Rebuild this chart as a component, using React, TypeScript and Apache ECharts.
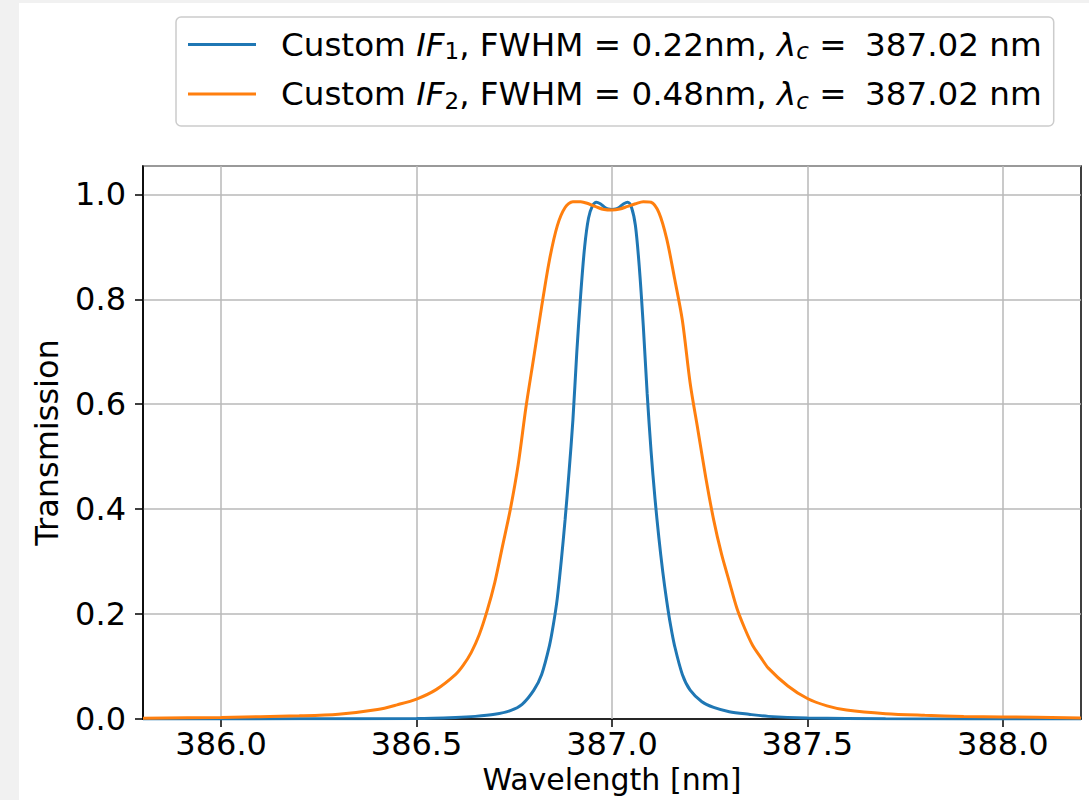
import React, { useEffect, useRef } from "react";
import * as echarts from "echarts";

const wlIF2 = [385.8, 386.0, 386.2, 386.3, 386.4, 386.45, 386.5, 386.55, 386.6, 386.62, 386.64, 386.66, 386.68, 386.7, 386.72, 386.74, 386.76, 386.78, 386.8, 386.82, 386.84, 386.86, 386.88, 386.9, 386.92, 386.94, 386.96, 386.98, 387.0, 387.02, 387.04, 387.06, 387.08, 387.1, 387.12, 387.14, 387.16, 387.18, 387.2, 387.22, 387.24, 387.26, 387.28, 387.3, 387.32, 387.34, 387.36, 387.38, 387.4, 387.45, 387.5, 387.55, 387.6, 387.7, 387.8, 387.9, 388.0, 388.2];
const tIF2 = [0.0015, 0.003, 0.006, 0.009, 0.018, 0.027, 0.038, 0.056, 0.085, 0.103, 0.127, 0.16, 0.205, 0.26, 0.33, 0.4, 0.485, 0.595, 0.69, 0.786, 0.875, 0.94, 0.975, 0.986, 0.986, 0.982, 0.976, 0.971, 0.97, 0.972, 0.977, 0.982, 0.986, 0.985, 0.965, 0.915, 0.84, 0.76, 0.64, 0.55, 0.46, 0.38, 0.315, 0.262, 0.21, 0.172, 0.14, 0.118, 0.097, 0.063, 0.039, 0.025, 0.017, 0.01, 0.007, 0.005, 0.004, 0.002];

const wlIF1 = [385.8, 386.2, 386.5, 386.6, 386.65, 386.7, 386.74, 386.77, 386.8, 386.82, 386.84, 386.85, 386.86, 386.87, 386.88, 386.89, 386.9, 386.91, 386.92, 386.93, 386.94, 386.95, 386.96, 386.97, 386.98, 386.99, 387.0, 387.01, 387.02, 387.03, 387.04, 387.05, 387.06, 387.07, 387.08, 387.09, 387.1, 387.11, 387.12, 387.13, 387.14, 387.15, 387.16, 387.18, 387.2, 387.23, 387.26, 387.3, 387.35, 387.4, 387.5, 387.7, 388.2];
const tIF1 = [0.0, 0.0003, 0.001, 0.003, 0.005, 0.009, 0.016, 0.028, 0.055, 0.085, 0.14, 0.18, 0.23, 0.3, 0.38, 0.47, 0.57, 0.7, 0.81, 0.9, 0.955, 0.978, 0.985, 0.982, 0.976, 0.972, 0.971, 0.972, 0.976, 0.982, 0.985, 0.975, 0.94, 0.86, 0.75, 0.62, 0.51, 0.42, 0.345, 0.28, 0.225, 0.178, 0.14, 0.085, 0.055, 0.033, 0.022, 0.014, 0.009, 0.005, 0.002, 0.0005, 0.0];

const xTicks = [386.0, 386.5, 387.0, 387.5, 388.0];
const seriesNames = ["IF1", "IF2"];
const legendLabels: Record<string, string> = {
  IF1: "{sp|}{n|Custom }{i|IF}{s|1}{n|, FWHM = 0.22nm, }{i|λ}{si|c}{n| = }{sp2|}{n|387.02 nm}",
  IF2: "{sp|}{n|Custom }{i|IF}{s|2}{n|, FWHM = 0.48nm, }{i|λ}{si|c}{n| = }{sp2|}{n|387.02 nm}",
};

const zip = (xs: number[], ys: number[]) => xs.map((x, i) => [x, ys[i]]);

export default function App() {
  const ref = useRef<HTMLDivElement>(null);
  useEffect(() => {
    if (!ref.current) return;
    const chart = echarts.init(ref.current, null, { renderer: "svg" });
    const font = "DejaVu Sans";
    const fs = 32;
    const lfs = 32.6;
    chart.setOption({
      animation: false,
      backgroundColor: "#ffffff",
      textStyle: { fontFamily: font },
      graphic: [
        { type: "rect", left: 0, top: 0, shape: { width: 19, height: 800 }, style: { fill: "#f1f1f1" }, silent: true },
        { type: "rect", left: 0, top: 0, shape: { width: 1089, height: 3 }, style: { fill: "#f1f1f1" }, silent: true },
      ],
      grid: {
        left: 143,
        right: 8,
        top: 166,
        bottom: 81,
        show: true,
        borderColor: "#000000",
        borderWidth: 1.5,
        backgroundColor: "transparent",
        outerBoundsMode: "none",
        containLabel: false,
      },
      legend: {
        orient: "vertical",
        left: 176,
        top: 17,
        padding: [11, 12, 14, 12],
        itemGap: 15,
        itemWidth: 68,
        itemHeight: 3,
        icon: "rect",
        selectedMode: false,
        borderColor: "#cccccc",
        borderWidth: 1.5,
        borderRadius: 5,
        backgroundColor: "#ffffff",
        data: seriesNames,
        formatter: (name: string) => legendLabels[name],
        textStyle: {
          fontFamily: font,
          fontSize: lfs,
          color: "#000000",
          rich: {
            sp: { width: 20, fontSize: lfs, lineHeight: 36 },
            sp2: { width: 8, fontSize: lfs, lineHeight: 36 },
            n: { fontSize: lfs, lineHeight: 36, color: "#000", fontFamily: font },
            i: { fontSize: lfs, lineHeight: 36, fontStyle: "italic", color: "#000", fontFamily: font },
            s: { fontSize: 23, lineHeight: 22, verticalAlign: "bottom", color: "#000", fontFamily: font },
            si: { fontSize: 23, lineHeight: 22, verticalAlign: "bottom", fontStyle: "italic", color: "#000", fontFamily: font },
          },
        },
      },
      xAxis: {
        type: "value",
        min: 385.8,
        max: 388.2,
        name: "Wavelength [nm]",
        nameLocation: "middle",
        nameGap: 42,
        nameTextStyle: { fontSize: 30, lineHeight: 30, color: "#000", fontFamily: font },
        axisLine: { show: true, onZero: false, lineStyle: { color: "#000", width: 1.5 } },
        axisTick: { show: true, inside: false, length: 8, lineStyle: { color: "#000", width: 1.5 }, customValues: xTicks },
        axisLabel: {
          customValues: xTicks,
          formatter: (v: number) => v.toFixed(1),
          fontSize: fs,
          lineHeight: 32,
          color: "#000",
          margin: 9,
          fontFamily: font,
        },
        splitLine: { show: false },
      },
      yAxis: {
        type: "value",
        min: 0,
        max: 1.054,
        interval: 0.2,
        name: "Transmission",
        nameLocation: "middle",
        nameGap: 80,
        nameTextStyle: { fontSize: fs, color: "#000", fontFamily: font },
        axisLine: { show: true, onZero: false, lineStyle: { color: "#000", width: 1.5 } },
        axisTick: { show: true, inside: false, length: 8, lineStyle: { color: "#000", width: 1.5 } },
        axisLabel: {
          formatter: (v: number) => v.toFixed(1),
          showMaxLabel: false,
          fontSize: fs,
          color: "#000",
          margin: 17,
          fontFamily: font,
        },
        splitLine: { show: true, lineStyle: { color: "#b8b8b8", width: 1.5 } },
      },
      series: [
        {
          name: "IF1",
          type: "line",
          data: zip(wlIF1, tIF1),
          showSymbol: false,
          symbol: "none",
          smooth: 0.3,
          color: "#1f77b4",
          lineStyle: { color: "#1f77b4", width: 3 },
          z: 3,
          markLine: {
            silent: true,
            symbol: ["none", "none"],
            label: { show: false },
            lineStyle: { color: "#b8b8b8", width: 1.5, type: "solid" },
            z: 1,
            data: xTicks.map((v) => ({ xAxis: v })),
          },
        },
        {
          name: "IF2",
          type: "line",
          data: zip(wlIF2, tIF2),
          showSymbol: false,
          symbol: "none",
          smooth: 0.3,
          color: "#ff7f0e",
          lineStyle: { color: "#ff7f0e", width: 3 },
          z: 3,
        },
      ],
    });
    return () => chart.dispose();
  }, []);
  return (
    <div
      ref={ref}
      style={{ position: "absolute", left: 0, top: 0, width: 1089, height: 800 }}
    />
  );
}
